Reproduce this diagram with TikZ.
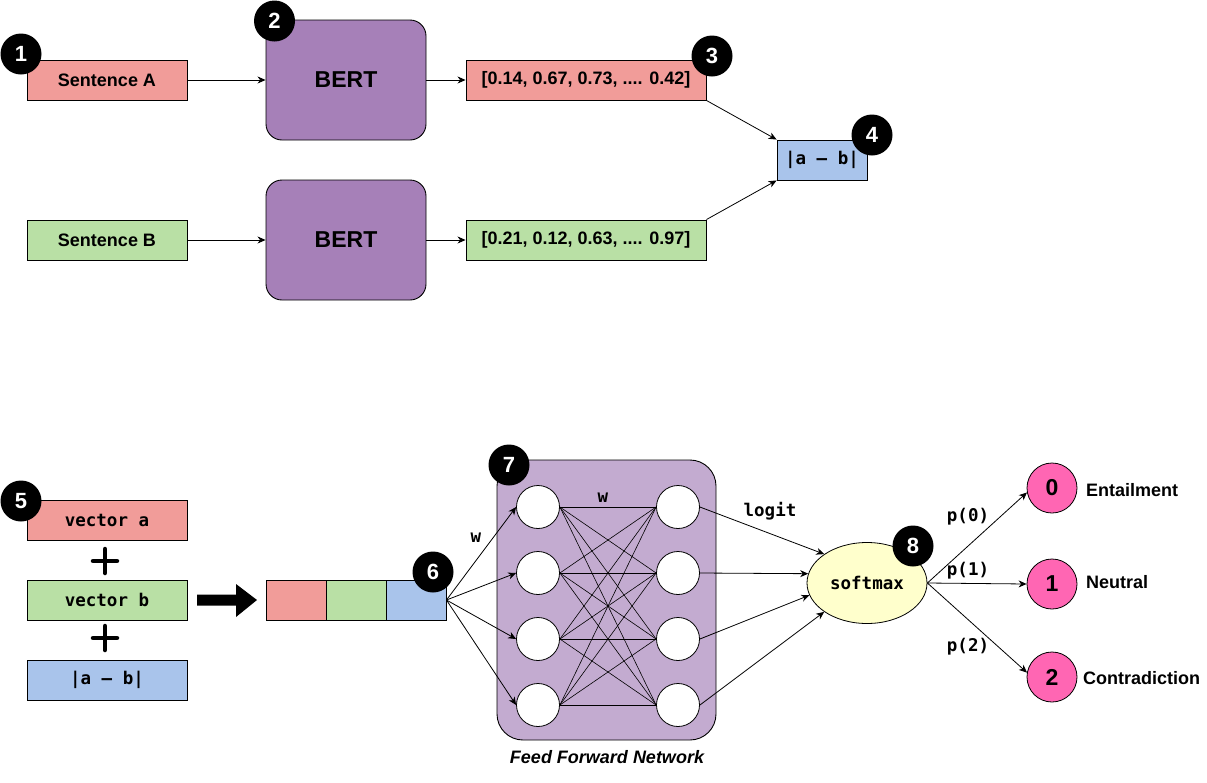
\documentclass[tikz,border=0pt]{standalone}
\usepackage{fontspec}
\setmainfont{Liberation Sans}
\setmonofont{DejaVu Sans Mono}
\usetikzlibrary{arrows.meta,shapes.geometric}
\definecolor{cred}{HTML}{F19C99}
\definecolor{cgreen}{HTML}{B9E0A5}
\definecolor{cblue}{HTML}{A9C4EB}
\definecolor{cpurple}{HTML}{A680B8}
\definecolor{cffn}{HTML}{C3ABD0}
\definecolor{cyellow}{HTML}{FFFFCC}
\definecolor{cpink}{HTML}{FF66B3}
\tikzset{
  txt/.style={font=\fontsize{18}{21}\selectfont\bfseries},
  mono/.style={font=\fontsize{17.5}{21}\selectfont\ttfamily\bfseries},
  box/.style={draw=black, line width=0.9pt, inner sep=0pt, minimum height=40pt},
  rbox/.style={box, txt, minimum width=160pt},
  mbox/.style={box, mono, minimum width=160pt},
  vbox/.style={box, txt, minimum width=240pt},
  bert/.style={draw=black, line width=0.9pt, fill=cpurple, rounded corners=16pt,
    minimum width=160pt, minimum height=120pt, font=\fontsize{23}{27}\selectfont\bfseries},
  cbox/.style={box, minimum width=60pt},
  badge/.style={circle, fill=black, minimum size=41pt, inner sep=0pt, text=white,
    font=\fontsize{22}{25}\selectfont\bfseries},
  neuron/.style={circle, draw=black, line width=0.8pt, fill=white, minimum size=43pt, inner sep=0pt},
  outc/.style={circle, draw=black, line width=0.8pt, fill=cpink, minimum size=50pt, inner sep=0pt,
    font=\fontsize{23}{26}\selectfont\bfseries},
  conn/.style={-{Stealth[length=8pt,width=7pt,inset=2.5pt]}, line width=0.8pt},
  wire/.style={line width=0.6pt},
  lbl/.style={inner sep=0pt},
}
\begin{document}
\begin{tikzpicture}[x=1pt,y=-1pt]
\useasboundingbox (0,0) rectangle (1207,782);

% ---------- top part ----------
\node[rbox, fill=cred] (sA) at (107,80) {Sentence A};
\node[bert] (bert1) at (346,80) {BERT};
\node[vbox, fill=cred] (vA) at (586,80) {[0.14, 0.67, 0.73, .... 0.42]};
\node[rbox, fill=cgreen] (sB) at (107,240) {Sentence B};
\node[bert] (bert2) at (346,240) {BERT};
\node[vbox, fill=cgreen] (vB) at (586,240) {[0.21, 0.12, 0.63, .... 0.97]};
\node[box, mono, minimum width=90pt, fill=cblue] (ab) at (822,160) {|a – b|};

\draw[conn] (sA) -- (bert1);
\draw[conn] (bert1) -- (vA);
\draw[conn] (sB) -- (bert2);
\draw[conn] (bert2) -- (vB);
\draw[conn] (vA.south east) -- (ab.north west);
\draw[conn] (vB.north east) -- (ab.south west);

\node[badge] (b1) at (21,54) {1};
\node[badge] (b2) at (274.5,21) {2};
\node[badge] (b3) at (712,56) {3};
\node[badge] (b4) at (872,135) {4};

% ---------- bottom part ----------
\node[mbox, fill=cred] (va) at (107,520) {vector a};
\node[mbox, fill=cgreen] (vb) at (107,600) {vector b};
\node[mbox, fill=cblue] (vab) at (107,680) {|a – b|};
\draw[line width=4.5pt, line cap=round] (93,561) -- (117,561) (105,549) -- (105,573);
\draw[line width=4.5pt, line cap=round] (93,638) -- (117,638) (105,626) -- (105,650);
\fill (197,594.5) -- (236,594.5) -- (236,584) -- (257,600) -- (236,617) -- (236,605.5) -- (197,605.5) -- cycle;

\node[cbox, fill=cred] (c1) at (296.5,600) {};
\node[cbox, fill=cgreen] (c2) at (356,600) {};
\node[cbox, fill=cblue] (c3) at (416,600) {};

\node[draw=black, line width=0.9pt, fill=cffn, rounded corners=26pt,
  minimum width=219pt, minimum height=280pt] (ffn) at (606.5,600) {};

\foreach \i/\y in {1/507,2/573,3/639,4/705}{
  \node[neuron] (L\i) at (538,\y) {};
  \node[neuron] (R\i) at (678,\y) {};
}
\foreach \i in {1,...,4}{
  \foreach \j in {1,...,4}{
    \draw[wire] (L\i.east) -- (R\j.west);
  }
  \draw[conn] (c3.east) -- (L\i.west);
}

\node[ellipse, draw=black, line width=0.8pt, fill=cyellow, minimum width=120pt,
  minimum height=81pt, inner sep=0pt, mono] (sm) at (867,583) {softmax};

\draw[conn] (R1.east) -- (sm.146);
\draw[conn] (R2.east) -- (sm.171);
\draw[conn] (R3.east) -- (sm.192);
\draw[conn] (R4.east) -- (sm.214);

\node[outc] (o0) at (1052,488) {0};
\node[outc] (o1) at (1052,584) {1};
\node[outc] (o2) at (1052,677) {2};
\draw[conn] (sm.east) -- (o0.190);
\draw[conn] (sm.east) -- (o1.west);
\draw[conn] (sm.east) -- (o2.170);

\node[lbl, txt, anchor=west] (t0) at (1086,490) {Entailment};
\node[lbl, txt, anchor=west] (t1) at (1086,582) {Neutral};
\node[lbl, txt, anchor=west] (t2) at (1083,678) {Contradiction};

\node[lbl, mono] (p0) at (968,517) {p(0)};
\node[lbl, mono] (p1) at (968,571) {p(1)};
\node[lbl, mono] (p2) at (968,647) {p(2)};
\node[lbl, mono] (w1) at (476,538) {w};
\node[lbl, mono] (w2) at (603,498) {w};
\node[lbl, mono] (lg) at (770,511) {logit};
\node[lbl, font=\fontsize{18}{21}\selectfont\bfseries\itshape] (fl) at (607,757) {Feed Forward Network};

\node[badge] (b5) at (21,501) {5};
\node[badge] (b6) at (433,572) {6};
\node[badge] (b7) at (509,465) {7};
\node[badge] (b8) at (913,546) {8};
\end{tikzpicture}
\end{document}
